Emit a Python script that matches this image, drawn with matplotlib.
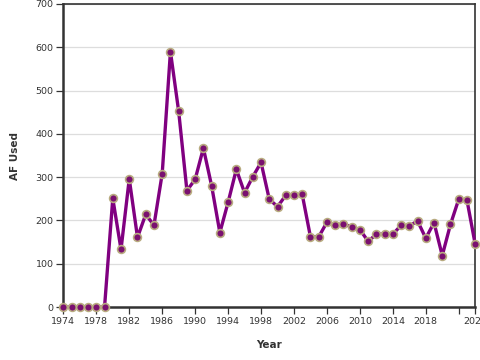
import matplotlib
matplotlib.use("Agg")
import matplotlib.pyplot as plt
import numpy as np

years = list(range(1974, 2025))
af_used = [0, 0, 0, 0, 0, 0, 251, 133, 296, 161, 214, 189, 308,
           590, 452, 269, 295, 367, 280, 172, 242, 318, 264, 301, 334,
           249, 232, 258, 258, 260, 162, 162, 196, 189, 192, 185, 179,
           152, 168, 169, 168, 189, 187, 199, 159, 195, 119, 191, 249,
           247, 145]
tick_years = list(range(1974, 2023, 4)) + [2024]
tick_labels = [str(y) for y in tick_years]
tick_labels[-2] = ""

plt.rcParams["font.family"] = "DejaVu Sans"

fig = plt.figure(figsize=(4.8, 3.6), dpi=100)
ax = fig.add_axes([0.132, 0.147, 0.858, 0.842])

ax.plot(years, af_used, color="#800080", linewidth=2.4, zorder=3,
        marker="o", markersize=5.6, markerfacecolor="#7a1070",
        markeredgecolor="#b8ab80", markeredgewidth=1.2, clip_on=False)

ax.set_xlim(1974, 2024)
ax.set_ylim(0, 700)
ax.set_yticks(range(0, 701, 100))
ax.set_xticks(tick_years)
ax.set_xticklabels(tick_labels)

ax.grid(axis="y", color="#dddddd", linewidth=0.9)
ax.set_axisbelow(True)

for side in ["left", "bottom"]:
    ax.spines[side].set_linewidth(1.8)
    ax.spines[side].set_color("#333333")
for side in ["right", "top"]:
    ax.spines[side].set_linewidth(1.2)
    ax.spines[side].set_color("#333333")

ax.tick_params(axis="both", length=5, width=0.9, color="#333333",
               labelsize=6.8, labelcolor="#333333", pad=2)
ax.set_xlabel("Year", fontsize=7.5, fontweight="bold", color="#333333", labelpad=10)
ax.set_ylabel("AF Used", fontsize=7.5, fontweight="bold", color="#333333", labelpad=11)

fig.savefig("out.png", dpi=100)
